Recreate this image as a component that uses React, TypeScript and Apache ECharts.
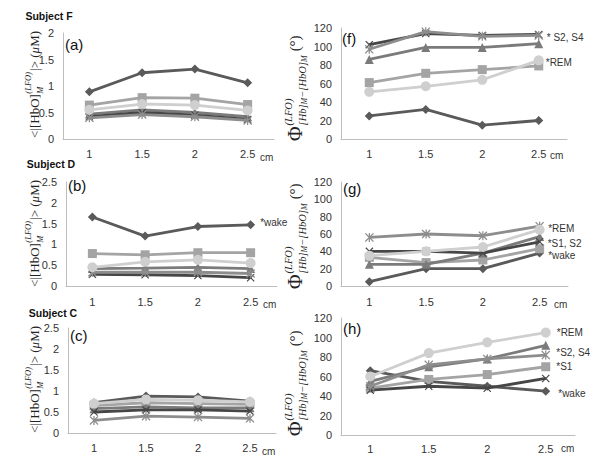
import React, { useEffect, useRef } from 'react';
import * as echarts from 'echarts';

// ---------- data ----------
const categories = ['1', '1.5', '2', '2.5'];

// Subject F
const diamondA = [0.89, 1.25, 1.32, 1.06];
const squareA = [0.64, 0.78, 0.77, 0.65];
const triangleA = [0.47, 0.55, 0.5, 0.42];
const xA = [0.42, 0.5, 0.45, 0.37];
const starA = [0.4, 0.46, 0.42, 0.35];
const circleA = [0.55, 0.66, 0.64, 0.54];

const diamondF = [25, 32, 15, 20];
const squareF = [61, 71, 75, 79];
const triangleF = [86, 99, 99, 103];
const xF = [102, 114, 112, 113];
const starF = [97, 116, 111, 112];
const circleF = [51, 57, 64, 85];

// Subject D
const diamondB = [1.66, 1.2, 1.43, 1.47];
const squareB = [0.78, 0.75, 0.8, 0.8];
const triangleB = [0.42, 0.43, 0.45, 0.42];
const xB = [0.28, 0.27, 0.25, 0.2];
const starB = [0.33, 0.33, 0.33, 0.3];
const circleB = [0.45, 0.58, 0.63, 0.55];

const diamondG = [5, 20, 20, 38];
const squareG = [33, 27, 30, 43];
const triangleG = [25, 25, 38, 57];
const xG = [40, 40, 38, 51];
const starG = [56, 60, 58, 69];
const circleG = [35, 40, 45, 65];

// Subject C
const diamondC = [0.72, 0.88, 0.86, 0.76];
const squareC = [0.65, 0.72, 0.7, 0.68];
const triangleC = [0.58, 0.62, 0.6, 0.6];
const xC = [0.5, 0.55, 0.55, 0.52];
const starC = [0.3, 0.4, 0.38, 0.35];
const circleC = [0.7, 0.8, 0.78, 0.74];

const diamondH = [66, 55, 50, 45];
const squareH = [48, 57, 62, 70];
const triangleH = [55, 70, 78, 92];
const xH = [46, 50, 48, 58];
const starH = [50, 72, 78, 82];
const circleH = [60, 84, 95, 105];

const subjects = ['Subject F', 'Subject D', 'Subject C'];
const panelTags = ['(a)', '(f)', '(b)', '(g)', '(c)', '(h)'];

// ---------- styles ----------
const X_PATH = 'path://M1,0L5,4L9,0L10,1L6,5L10,9L9,10L5,6L1,10L0,9L4,5L0,1Z';
const STAR_PATH = X_PATH + 'M4.3,0L5.7,0L5.7,10L4.3,10Z';

const markers = [
  { symbol: 'diamond', color: '#5a5a5a', size: 9 },
  { symbol: 'rect', color: '#a4a4a4', size: 9 },
  { symbol: 'triangle', color: '#7b7b7b', size: 9 },
  { symbol: X_PATH, color: '#464646', size: 8 },
  { symbol: STAR_PATH, color: '#8d8d8d', size: 9 },
  { symbol: 'circle', color: '#cfcfcf', size: 10 },
];

type Lbl = { text: string; dy: number; dist: number };

const panels = [
  { grid: { left: 63, top: 33, width: 211, height: 106 }, max: 2, interval: 0.5, xMargin: 9,
    data: [diamondA, squareA, triangleA, xA, starA, circleA], labels: {} as Record<number, Lbl> },
  { grid: { left: 341, top: 28, width: 226, height: 111 }, max: 120, interval: 20, xMargin: 9,
    data: [diamondF, squareF, triangleF, xF, starF, circleF],
    labels: { 3: { text: '* S2, S4', dy: 3, dist: 4 }, 5: { text: '*REM', dy: 2, dist: 2 } } as Record<number, Lbl> },
  { grid: { left: 66, top: 182, width: 211, height: 104 }, max: 2.5, interval: 0.5, xMargin: 10,
    data: [diamondB, squareB, triangleB, xB, starB, circleB],
    labels: { 0: { text: '*wake', dy: -2, dist: 5 } } as Record<number, Lbl> },
  { grid: { left: 341, top: 182, width: 227, height: 104 }, max: 120, interval: 20, xMargin: 10,
    data: [diamondG, squareG, triangleG, xG, starG, circleG],
    labels: { 4: { text: '*REM', dy: 2, dist: 4 }, 3: { text: '*S1, S2', dy: 2, dist: 4 }, 0: { text: '*wake', dy: 2, dist: 4 } } as Record<number, Lbl> },
  { grid: { left: 68, top: 328, width: 208, height: 105 }, max: 2.5, interval: 0.5, xMargin: 9,
    data: [diamondC, squareC, triangleC, xC, starC, circleC], labels: {} as Record<number, Lbl> },
  { grid: { left: 341, top: 318, width: 234, height: 117 }, max: 120, interval: 20, xMargin: 8,
    data: [diamondH, squareH, triangleH, xH, starH, circleH],
    labels: { 5: { text: '*REM', dy: 0, dist: 6 }, 4: { text: '*S2, S4', dy: -3, dist: 6 }, 1: { text: '*S1', dy: 0, dist: 6 }, 0: { text: '*wake', dy: 2, dist: 8 } } as Record<number, Lbl> },
];

const SANS = '"Liberation Sans", Arial, sans-serif';
const SERIF = '"Liberation Serif", "Times New Roman", serif';

let measureCtx: CanvasRenderingContext2D | null = null;
function tw(text: string, font: string): number {
  if (!measureCtx) measureCtx = document.createElement('canvas').getContext('2d');
  if (!measureCtx) return text.length * 6;
  measureCtx.font = font;
  return measureCtx.measureText(text).width;
}

function txt(text: string, x: number, y: number, font: string, fill = '#222', align = 'left') {
  return { type: 'text', x, y, silent: true, style: { text, font, fill, align, verticalAlign: 'middle' } };
}

function hboTitle(x: number, y: number) {
  const main = `13px ${SERIF}`;
  const mainIt = `italic 13px ${SERIF}`;
  const small = `italic 8.5px ${SERIF}`;
  const p1 = '<|[HbO]';
  const w1 = tw(p1, main);
  const wsup = tw('(LFO)', small);
  const x2 = w1 + wsup + 1.5;
  const p2 = '|> (';
  const w2 = tw(p2, main);
  const wmu = tw('μ', mainIt);
  return {
    type: 'group', x, y, rotation: Math.PI / 2, silent: true,
    children: [
      txt(p1, 0, 0, main),
      txt('(LFO)', w1 + 0.5, -6, small),
      txt('M', w1 + 0.5, 5.5, small),
      txt(p2, x2, 0, main),
      txt('μ', x2 + w2, 0, mainIt),
      txt('M)', x2 + w2 + wmu, 0, main),
    ],
  };
}

function phiTitle(x: number, y: number) {
  const big = `20px ${SERIF}`;
  const main = `15px ${SERIF}`;
  const small = `italic 10.5px ${SERIF}`;
  const tiny = `italic 8px ${SERIF}`;
  const wPhi = tw('Φ', big);
  const s0 = wPhi + 1;
  const parts: any[] = [txt('Φ', 0, 0, big), txt('(LFO)', s0, -7, small)];
  let cx = s0;
  const subParts: [string, string, number][] = [['[Hb]', small, 7], ['M', tiny, 9], ['−[HbO]', small, 7], ['M', tiny, 9]];
  for (const [t, f, dy] of subParts) {
    parts.push(txt(t, cx, dy, f));
    cx += tw(t, f);
  }
  const end = Math.max(cx, s0 + tw('(LFO)', small)) + 4;
  parts.push(txt('(°)', end, 0, main));
  return { type: 'group', x, y, rotation: Math.PI / 2, silent: true, children: parts };
}

function buildOption() {
  const grids: any[] = [];
  const xAxes: any[] = [];
  const yAxes: any[] = [];
  const series: any[] = [];
  panels.forEach((p, pi) => {
    grids.push({ ...p.grid, containLabel: false, outerBoundsMode: 'none' });
    xAxes.push({
      gridIndex: pi, type: 'category', data: categories, boundaryGap: true,
      axisLine: { show: true, lineStyle: { color: '#bdbdbd', width: 1 } },
      axisTick: { show: false },
      axisLabel: { color: '#333', fontSize: 11, fontFamily: SANS, margin: p.xMargin },
      splitLine: { show: false },
    });
    yAxes.push({
      gridIndex: pi, type: 'value', min: 0, max: p.max, interval: p.interval,
      axisLine: { show: true, lineStyle: { color: '#bdbdbd', width: 1 } },
      axisTick: { show: false },
      axisLabel: { color: '#333', fontSize: 11, fontFamily: SANS, margin: 9 },
      splitLine: { show: false },
    });
    p.data.forEach((vals, si) => {
      const m = markers[si];
      const lbl = p.labels[si];
      series.push({
        type: 'line', xAxisIndex: pi, yAxisIndex: pi,
        symbol: m.symbol, symbolSize: m.size, showAllSymbol: true,
        lineStyle: { color: m.color, width: 2.8 },
        itemStyle: { color: m.color, borderColor: m.color, borderWidth: 0 },
        label: { show: false },
        emphasis: { disabled: true },
        z: 2 + si,
        data: vals.map((v, i) =>
          lbl && i === vals.length - 1
            ? {
                value: v,
                label: {
                  show: true, position: 'right', distance: lbl.dist, offset: [0, lbl.dy],
                  formatter: lbl.text, color: '#333', fontSize: 10, fontFamily: SANS,
                },
              }
            : v
        ),
      });
    });
  });

  const subjFont = `bold 10.5px ${SANS}`;
  const graphic: any[] = [
    txt(subjects[0], 49, 16, subjFont, '#111', 'center'),
    txt(subjects[1], 51, 164, subjFont, '#111', 'center'),
    txt(subjects[2], 53, 313, subjFont, '#111', 'center'),
    txt(panelTags[0], 65, 44, `15px ${SANS}`, '#111'),
    txt(panelTags[1], 342, 38, `15px ${SANS}`, '#111'),
    txt(panelTags[2], 68, 185, `15px ${SANS}`, '#111'),
    txt(panelTags[3], 343, 188, `15px ${SANS}`, '#111'),
    txt(panelTags[4], 70, 335, `15px ${SANS}`, '#111'),
    txt(panelTags[5], 343, 328, `15px ${SANS}`, '#111'),
    txt('cm', 260, 157, `10px ${SANS}`, '#333'),
    txt('cm', 550, 155, `10px ${SANS}`, '#333'),
    txt('cm', 263, 304, `10px ${SANS}`, '#333'),
    txt('cm', 554, 304, `10px ${SANS}`, '#333'),
    txt('cm', 262, 451, `10px ${SANS}`, '#333'),
    txt('cm', 561, 448, `10px ${SANS}`, '#333'),
    hboTitle(34, 138),
    hboTitle(34, 287),
    hboTitle(34, 433),
    phiTitle(295, 141),
    phiTitle(295, 289),
    phiTitle(295, 436),
  ];

  return {
    animation: false,
    backgroundColor: '#ffffff',
    grid: grids,
    xAxis: xAxes,
    yAxis: yAxes,
    series,
    graphic,
  };
}

export default function App() {
  const ref = useRef<HTMLDivElement>(null);
  useEffect(() => {
    if (!ref.current) return;
    const chart = echarts.init(ref.current, undefined, { renderer: 'svg' });
    chart.setOption(buildOption() as any);
    return () => chart.dispose();
  }, []);
  return (
    <div
      ref={ref}
      style={{ position: 'fixed', left: 0, top: 0, width: 600, height: 467, background: '#fff' }}
    />
  );
}
